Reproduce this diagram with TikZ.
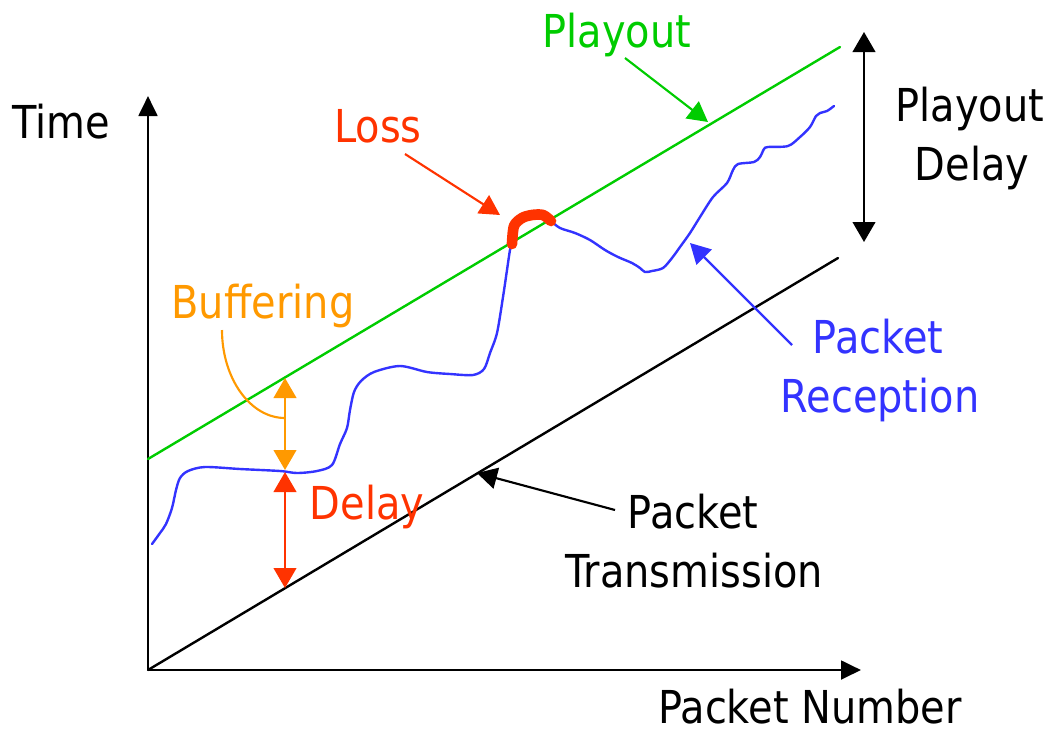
\documentclass[tikz,border=0pt]{standalone}
\usepackage{fontspec}
\setmainfont{DejaVu Sans}[FakeStretch=0.88]
\usetikzlibrary{arrows.meta}

\definecolor{lossred}{RGB}{255,51,0}
\definecolor{bufforange}{RGB}{255,153,0}
\definecolor{recvblue}{RGB}{51,51,255}
\definecolor{playgreen}{RGB}{0,204,0}

\begin{document}
\begin{tikzpicture}[x=0.75pt, y=-0.75pt,
  lbl/.style={anchor=base, inner sep=0pt, font=\fontsize{34pt}{44pt}\selectfont},
  axisline/.style={line width=2.2pt, -{Triangle[length=15pt, width=14pt]}},
  pointer/.style={line width=1.6pt, -{Triangle[length=15pt, width=16pt]}},
  span/.style={line width=1.6pt, {Triangle[length=15pt, width=17pt]}-{Triangle[length=15pt, width=17pt]}},
  trace/.style={line width=1.8pt, line join=round, line cap=round}
]
\useasboundingbox (0,0) rectangle (1049,733);

% axes
\coordinate (O) at (148,670);
\coordinate (yend) at (148,96);
\coordinate (xend) at (861,670);
\draw[axisline] (O) -- (yend);
\draw[axisline] (O) -- (xend);

% transmission and playout lines
\coordinate (txEnd) at (838,258);
\coordinate (poStart) at (148,459);
\coordinate (poEnd) at (840,47);
\draw[trace, black] (O) -- (txEnd);
\draw[trace, playgreen] (poStart) -- (poEnd);

% packet reception trace
\draw[trace, recvblue] plot[smooth, tension=0.5] coordinates {
  (152,544) (160,533) (166,524) (172,508) (176,490) (180,478) (188,471)
  (205,467) (240,469) (280,471) (297,473) (317,471) (332,465) (340,444)
  (347,428) (350,410) (354,392) (361,381) (374,372) (400,366) (427,372)
  (450,374) (473,375) (484,369) (490,353) (497,333) (503,297) (507,270)
  (510,250) (512,244)};
\draw[trace, recvblue] plot[smooth, tension=0.5] coordinates {
  (551,221) (560,228) (575,233) (590,240) (605,250) (618,257) (632,263)
  (640,268) (645,272) (652,271) (663,268) (672,258) (680,247) (690,233)
  (700,217) (713,197) (727,183) (733,170) (738,164) (754,162) (760,157)
  (764,149) (768,147) (788,146) (800,137) (810,127) (816,116) (820,113)
  (827,111) (834,106)};

% lost packets
\draw[lossred, line width=8pt, line cap=round, line join=round]
  plot[smooth, tension=0.5] coordinates {(512,244) (514,226) (522,218) (532,215) (543,215) (551,221)};

% buffering bracket curve
\coordinate (bufCurveTop) at (222,330);
\coordinate (bufCurveEnd) at (285,418);
\draw[bufforange, line width=1.6pt] (bufCurveTop) .. controls (222,378) and (250,418) .. (bufCurveEnd);

% vertical spans
\coordinate (bufTop) at (285,378);
\coordinate (bufBot) at (285,470);
\coordinate (dlyTop) at (285,472);
\coordinate (dlyBot) at (285,588);
\coordinate (pdTop) at (864,32);
\coordinate (pdBot) at (864,242);
\draw[span, bufforange] (bufBot) -- (bufTop);
\draw[span, lossred] (dlyTop) -- (dlyBot);
\draw[span, black] (pdTop) -- (pdBot);

% pointers
\coordinate (poFrom) at (625,58);
\coordinate (poTo) at (708,122);
\coordinate (lossFrom) at (405,154);
\coordinate (lossTo) at (500,215);
\coordinate (rxFrom) at (792,345);
\coordinate (rxTo) at (690,243);
\coordinate (txFrom) at (615,510);
\coordinate (txTo) at (477,473);
\draw[pointer, playgreen] (poFrom) -- (poTo);
\draw[pointer, lossred] (lossFrom) -- (lossTo);
\draw[pointer, recvblue] (rxFrom) -- (rxTo);
\draw[pointer, black] (txFrom) -- (txTo);

% labels
\node[lbl] (time) at (61,138) {Time};
\node[lbl, text=lossred] (loss) at (378,142) {Loss};
\node[lbl, text=playgreen] (playout) at (617,47) {Playout};
\node[lbl] (pdA) at (970,121) {Playout};
\node[lbl] (pdB) at (972,180) {Delay};
\node[lbl, text=bufforange] (buff) at (263,318) {Buffering};
\node[lbl, text=lossred] (delay) at (367,519) {Delay};
\node[lbl, text=recvblue] (rxA) at (878,353) {Packet};
\node[lbl, text=recvblue] (rxB) at (880,412) {Reception};
\node[lbl] (txA) at (693,528) {Packet};
\node[lbl] (txB) at (694,587) {Transmission};
\node[lbl] (pnum) at (810,723) {Packet Number};
\end{tikzpicture}
\end{document}
